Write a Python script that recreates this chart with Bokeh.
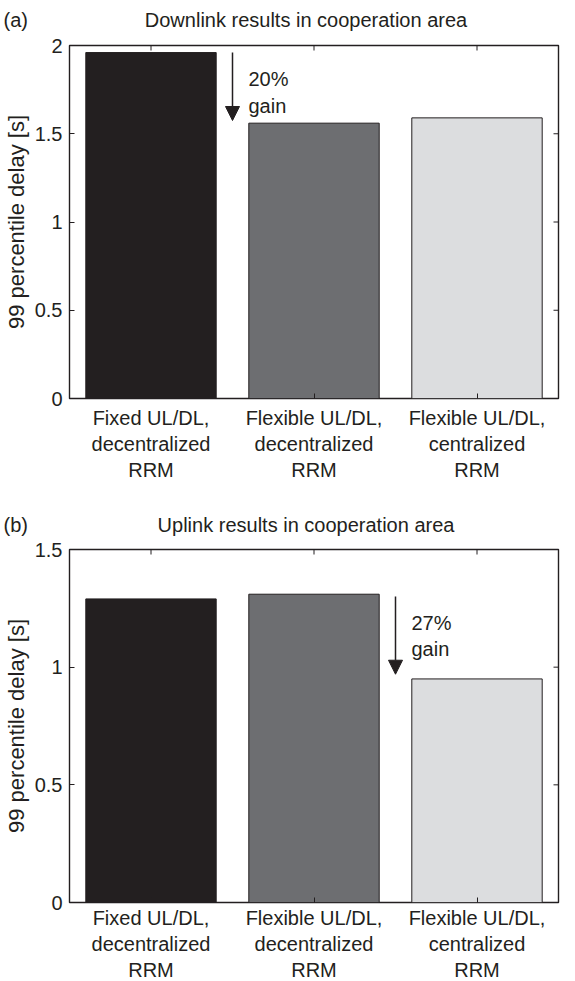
from bokeh.plotting import figure
from bokeh.models import (FixedTicker, NumeralTickFormatter, Label,
                          Arrow, NormalHead, Range1d, ColumnDataSource)
from bokeh.core.properties import value
from bokeh.layouts import column
from bokeh.embed import file_html
from bokeh.resources import INLINE

# ---- data ----
categories = ["Fixed UL/DL,\ndecentralized\nRRM",
              "Flexible UL/DL,\ndecentralized\nRRM",
              "Flexible UL/DL,\ncentralized\nRRM"]
positions = [1, 2, 3]
bar_colors = ["#231f20", "#6d6e71", "#dcdddf"]
dl_delay = [1.96, 1.56, 1.59]
ul_delay = [1.29, 1.31, 0.95]
dl_ticks = [0, 0.5, 1, 1.5, 2]
ul_ticks = [0, 0.5, 1, 1.5]
titles = ["Downlink results in cooperation area", "Uplink results in cooperation area"]
panel_tags = ["(a)", "(b)"]
gain_text = ["20%\ngain", "27%\ngain"]
arrow_x = [1.5, 2.5]
arrow_from = [1.96, 1.30]
arrow_to = [1.575, 0.97]
text_top = [1.87, 1.235]

FONT = "Liberation Sans"
FS = "20px"
FS_YLABEL = "22px"
INK = "#231f20"
FW, FH = 489, 353
LB, RB = 61, 12
W = LB + FW + RB
X0, X1 = 0.5, 3.5


def make_header(i, height, text_y):
    h = figure(width=W, height=height, x_range=Range1d(0, W), y_range=Range1d(0, height),
               output_backend="svg", toolbar_location=None, min_border=0,
               x_axis_location=None, y_axis_location=None, frame_align=False)
    h.grid.visible = False
    h.outline_line_color = None
    h.background_fill_color = "white"
    h.text(x=[3], y=[height - text_y], text=[panel_tags[i]], text_align="left",
           text_baseline="middle", text_font=value(FONT), text_font_size=FS,
           text_color=INK)
    h.text(x=[LB + FW / 2], y=[height - text_y], text=[titles[i]], text_align="center",
           text_baseline="middle", text_font=value(FONT), text_font_size=FS,
           text_color=INK)
    return h


def make_panel(i, values, yticks, ymax, top_border, bottom_border, label_standoff):
    p = figure(frame_width=FW, frame_height=FH, output_backend="svg",
               toolbar_location=None, x_range=Range1d(X0, X1),
               y_range=Range1d(0, ymax), min_border_left=LB,
               min_border_right=RB, min_border_top=top_border,
               min_border_bottom=bottom_border)
    p.grid.visible = False
    p.outline_line_color = INK
    p.outline_line_width = 1.4
    p.background_fill_color = "white"
    p.border_fill_color = "white"

    src = ColumnDataSource(dict(x=positions, top=values, color=bar_colors))
    p.vbar(x="x", top="top", width=0.8, bottom=0, fill_color="color",
           line_color=INK, line_width=1, source=src)

    # mirrored ticks (MATLAB box style), drawn from the tick arrays
    dx = 5.0 / FW * (X1 - X0)
    dy = 5.0 / FH * ymax
    p.segment(x0=positions, x1=positions, y0=[ymax] * len(positions),
              y1=[ymax - dy] * len(positions), line_color=INK, line_width=1)
    p.segment(x0=[X1] * len(yticks), x1=[X1 - dx] * len(yticks), y0=yticks,
              y1=yticks, line_color=INK, line_width=1)

    # x axis
    xa = p.xaxis[0]
    xa.ticker = FixedTicker(ticks=positions)
    xa.major_label_overrides = {pos: lab for pos, lab in zip(positions, categories)}
    xa.major_tick_in = 5
    xa.major_tick_out = 0
    xa.minor_tick_line_color = None
    xa.axis_line_color = None
    xa.major_label_standoff = label_standoff
    xa.major_label_text_font = FONT
    xa.major_label_text_font_size = FS
    xa.major_label_text_color = INK
    xa.major_tick_line_color = INK

    # y axis
    ya = p.yaxis[0]
    ya.ticker = FixedTicker(ticks=yticks)
    ya.formatter = NumeralTickFormatter(format="0.[0]")
    ya.major_tick_in = 5
    ya.major_tick_out = 0
    ya.minor_tick_line_color = None
    ya.axis_line_color = None
    ya.major_label_standoff = 7
    ya.major_label_text_font = FONT
    ya.major_label_text_font_size = FS
    ya.major_label_text_color = INK
    ya.major_tick_line_color = INK
    ya.axis_label = "99 percentile delay [s]"
    ya.axis_label_text_font = FONT
    ya.axis_label_text_font_size = FS_YLABEL
    ya.axis_label_text_font_style = "normal"
    ya.axis_label_text_color = INK
    ya.axis_label_standoff = 3

    # gain arrow
    p.add_layout(Arrow(end=NormalHead(size=14, fill_color=INK, line_color=INK),
                       x_start=arrow_x[i], y_start=arrow_from[i],
                       x_end=arrow_x[i], y_end=arrow_to[i],
                       line_color=INK, line_width=1.5))
    p.add_layout(Label(x=arrow_x[i], y=text_top[i], x_offset=16,
                       text=gain_text[i], text_align="left", text_baseline="top",
                       text_font=FONT, text_font_size=FS, text_color=INK))
    return p


h1 = make_header(0, 32, 19)
p1 = make_panel(0, dl_delay, dl_ticks, 2, 13, 100, 8)
h2 = make_header(1, 39, 26)
p2 = make_panel(1, ul_delay, ul_ticks, 1.5, 12, 76, 4)

layout = column(h1, p1, h2, p2, spacing=0)
open("out.html", "w").write(file_html(layout, INLINE))
